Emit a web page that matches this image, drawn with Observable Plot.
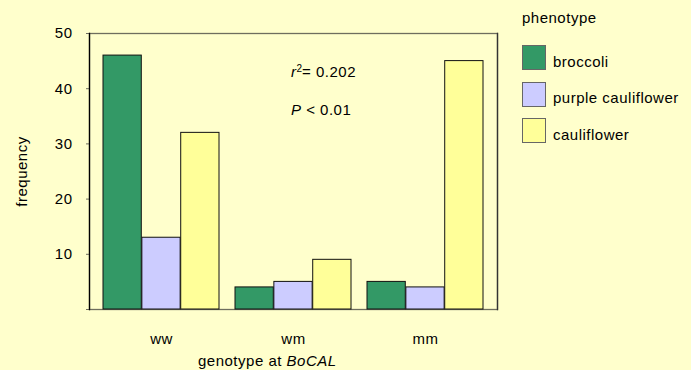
<!DOCTYPE html>
<html><head><meta charset="utf-8">
<script src="https://cdn.jsdelivr.net/npm/d3@7"></script>
<script src="https://cdn.jsdelivr.net/npm/@observablehq/plot@0.6"></script>
<style>
body{margin:0;background:#FFFFCC;}
#wrap{position:relative;width:691px;height:370px;background:#FFFFCC;font-family:"Liberation Sans",Arial,sans-serif;font-size:15px;letter-spacing:0.5px;color:#000;overflow:hidden;}
#wrap svg{position:absolute;left:0;top:0;}
.abs{position:absolute;white-space:nowrap;line-height:1;}
.sw{position:absolute;width:22px;height:23px;border:1px solid #666;}
</style></head><body>
<div id="wrap"></div>
<script>
const genotypes = ["ww", "wm", "mm"];
const phenotypes = ["broccoli", "purple cauliflower", "cauliflower"];
const broccoli = [46, 4, 5];
const purpleCauliflower = [13, 5, 4];
const cauliflower = [32, 9, 45];
const phenotypeColors = ["#339966", "#CCCCFF", "#FFFF99"];
const yTicks = [0, 10, 20, 30, 40, 50];

const seriesValues = [broccoli, purpleCauliflower, cauliflower];
const W = 691, H = 370, mL = 89, mR = 194, mT = 33, mB = 61;
const xOptions = {type: "band", domain: genotypes, paddingInner: 0.12, paddingOuter: 0.1};
// bandwidth of each genotype group, from Plot's own band scale
const bw = Plot.scale({x: {...xOptions, range: [mL, W - mR]}}).bandwidth;
const n = phenotypes.length;

const font = '"Liberation Sans", Arial, sans-serif';
const barMarks = phenotypes.map((p, j) => Plot.barY(
  genotypes.map((g, i) => ({genotype: g, phenotype: p, frequency: seriesValues[j][i]})),
  {x: "genotype", y: "frequency", fill: "phenotype", stroke: "#111", strokeWidth: 1,
   insetLeft: j * bw / n, insetRight: (n - 1 - j) * bw / n}
));

const chart = Plot.plot({
  width: W, height: H,
  marginLeft: mL, marginRight: mR, marginTop: mT, marginBottom: mB,
  style: {background: "transparent", fontFamily: font, fontSize: "15px", color: "#000", overflow: "visible", letterSpacing: "0.5px"},
  x: {...xOptions, label: null, tickSize: 0, tickPadding: 24},
  y: {domain: [0, 50], axis: null},
  color: {domain: phenotypes, range: phenotypeColors},
  marks: [
    Plot.frame({stroke: "#6e6e5e", strokeWidth: 1.3}),
    Plot.frame({anchor: "right", stroke: "#333", strokeWidth: 1.3}),
    Plot.axisY({ticks: yTicks, tickFormat: d => d === 0 ? "" : d, tickSize: 3, tickPadding: 14,
      stroke: "#6e6e5e", label: "frequency", labelAnchor: "center", labelArrow: "none", labelOffset: 73}),
    ...barMarks,
    Plot.frame({anchor: "left", stroke: "#000", strokeWidth: 1.3})
  ]
});
const wrap = document.getElementById("wrap");
wrap.appendChild(chart);

function addText(html, left, top) {
  const d = document.createElement("div");
  d.className = "abs";
  d.style.left = left + "px";
  d.style.top = top + "px";
  d.innerHTML = html;
  wrap.appendChild(d);
  return d;
}
// statistics annotation
addText('<i>r</i><sup style="font-size:10px;vertical-align:5px;letter-spacing:0">2</sup>= 0.202', 291, 63.5);
addText('<i>P</i> &lt; 0.01', 291, 101.5);
// x title
addText('genotype at <i>BoCAL</i>', 198, 353);
// legend
addText('phenotype', 522, 9.5);
phenotypes.forEach((p, i) => {
  const s = document.createElement("div");
  s.className = "sw";
  s.style.left = "522px";
  s.style.top = (45 + i * 36.6) + "px";
  s.style.background = phenotypeColors[i];
  wrap.appendChild(s);
  addText(p, 553, 53.5 + i * 36.6);
});
</script>
</body></html>
